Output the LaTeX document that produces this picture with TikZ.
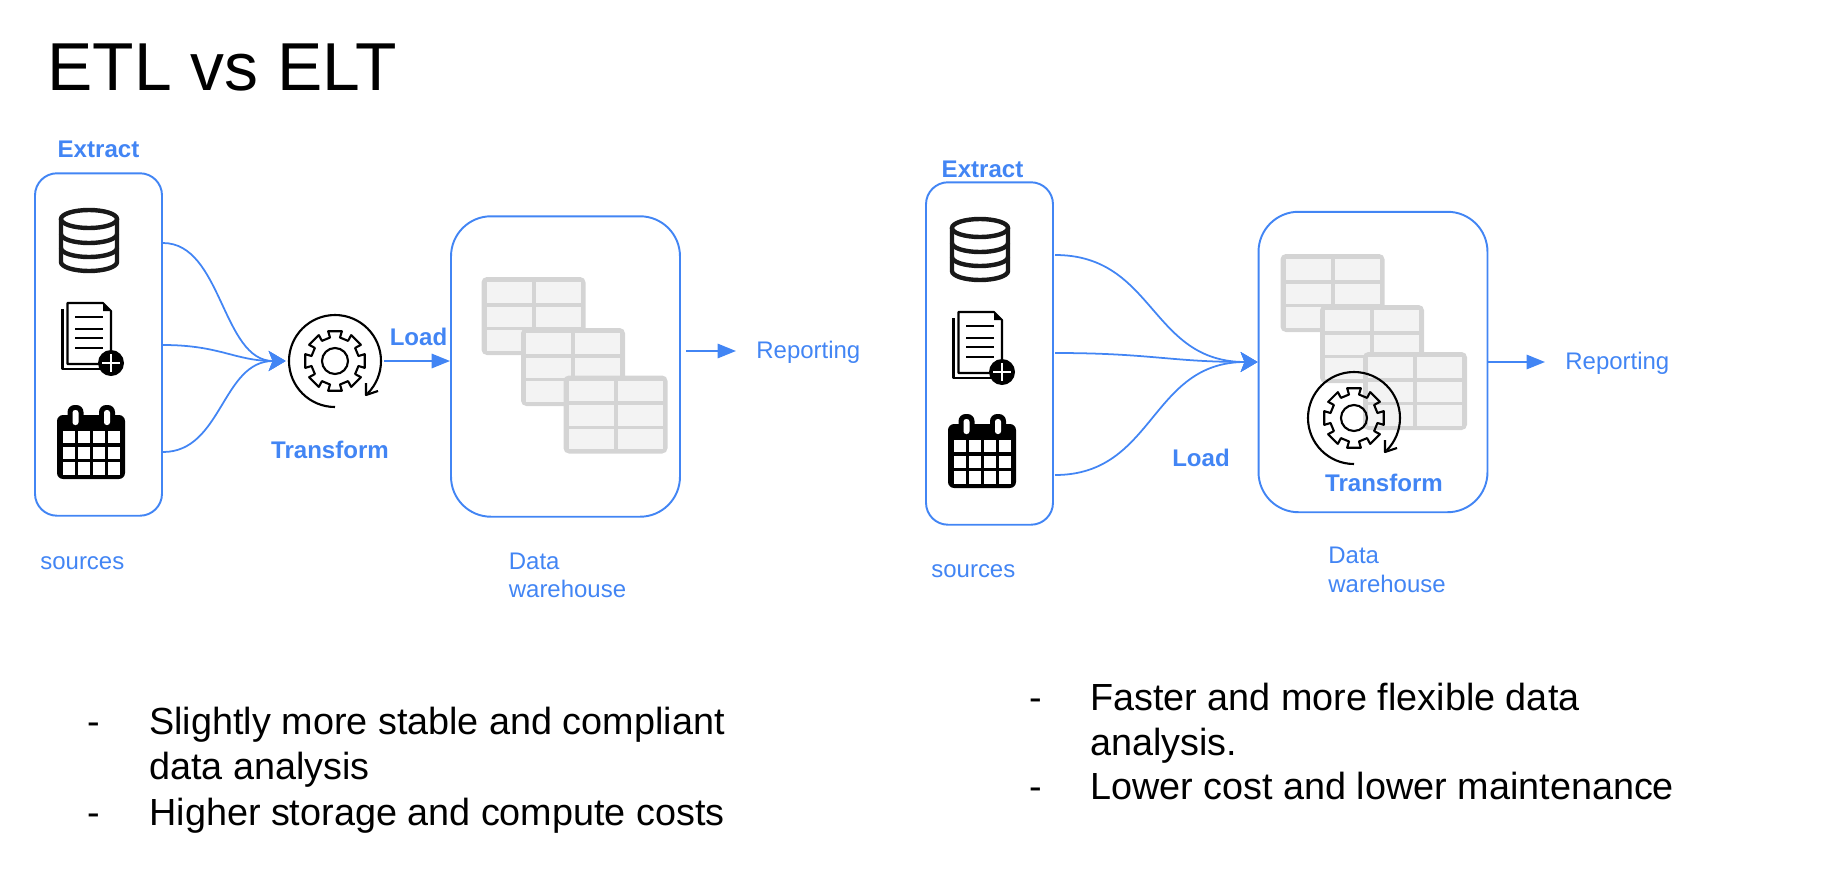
\documentclass[tikz,border=0pt]{standalone}
\usepackage{fontspec}
\setmainfont{Liberation Sans}
\usetikzlibrary{arrows.meta,calc}
\definecolor{flowblue}{HTML}{4285F4}
\definecolor{tablegrey}{HTML}{D4D4D4}
\definecolor{tablecell}{HTML}{F3F3F3}
\tikzset{
	srcbox/.style={draw=flowblue,line width=1.1pt,rounded corners=0.44cm,minimum width=2.54cm,minimum height=6.85cm,inner sep=0},
	whbox/.style={draw=flowblue,line width=1.1pt,rounded corners=0.8cm,minimum width=4.58cm,minimum height=6.01cm,inner sep=0},
	gearbox/.style={circle,minimum size=1.96cm,inner sep=0},
	flow/.style={flowblue,line width=1.1pt,-{Triangle[length=10.5pt,width=8.2pt]}},
	flowline/.style={flowblue,line width=1pt,-{Stealth[length=9.6pt,width=11.3pt,inset=2.2pt]}},
	bluelabel/.style={text=flowblue,font=\fontsize{13.65}{16.2}\selectfont,inner sep=0,align=left},
	boldlabel/.style={bluelabel,font=\fontsize{13.7}{16.2}\selectfont\bfseries},
	bodytext/.style={font=\fontsize{21.5}{25.6}\selectfont,inner sep=0,align=left,anchor=north west},
	iconline/.style={black,line width=1.2pt,line join=round}
}
\newcommand{\tableicon}[2]{
	\fill[tablegrey,rounded corners=3pt] (#1,#2) rectangle ++(104,78);
	\foreach \cx in {5,54}
		\foreach \cy in {5,29.5,53}
			\fill[tablecell] (#1+\cx,#2+\cy) rectangle ++(45,20.5);
}
\newcommand{\gearicon}[2]{
	\begin{scope}[shift={(#1,#2)}]
	\draw[iconline] (0,0) circle (13);
	\draw[iconline] (-12:24) \foreach \a in {0,45,...,315} { -- (\a-12:24) -- (\a-13:30.5) -- (\a+13:30.5) -- (\a+12:24) } -- cycle;
	\draw[iconline] (0,0) ++(90:46) arc[start angle=90,end angle=405,radius=46];
	\draw[iconline] (31,22) -- (31,34) -- (43,30);
	\end{scope}
}
\newcommand{\sourceicons}[2]{
	\begin{scope}[shift={(#1,#2)}]
	% database
	\begin{scope}[black!90,line width=2.5pt]
	\draw (89,219) ellipse (28 and 9);
	\draw (61,219) -- (61,262) arc[start angle=180,end angle=0,x radius=28,y radius=9] -- (117,219);
	\draw (61,234) arc[start angle=180,end angle=0,x radius=28,y radius=9];
	\draw (61,248) arc[start angle=180,end angle=0,x radius=28,y radius=9];
	\end{scope}
	% document
	\draw[iconline] (62.5,309) -- (62.5,369) -- (100,369);
	\draw[iconline,fill=white] (67.5,303) -- (103,303) -- (111,311) -- (111,364) -- (67.5,364) -- cycle;
	\fill[black] (103,303) -- (111,311) -- (103,311) -- cycle;
	\foreach \ly in {317,329,338,348}
		\draw[iconline] (75,\ly) -- (103,\ly);
	\fill[black] (111,363) circle (13);
	\draw[white,line width=1.1pt] (102,363) -- (120,363);
	\draw[white,line width=1.1pt] (111,354) -- (111,372);
	% calendar
	\fill[black,rounded corners=3.5pt] (57,415) rectangle (125,479);
	\foreach \rx in {75.5,107}{
		\fill[black,rounded corners=4pt] (\rx-8,405) rectangle (\rx+8,430);
		\fill[white,rounded corners=1.5pt] (\rx-3,410) rectangle (\rx+3,425);
	}
	\foreach \cx in {62.7,77.6,93,108.3}
		\foreach \cy in {431,446.7,462.3}
			\fill[white] (\cx,\cy) rectangle ++(12,12.3);
	\end{scope}
}
\begin{document}
\begin{tikzpicture}[x=0.02cm,y=-0.02cm]
	\useasboundingbox (0,0) rectangle (1843,869);

	\node[anchor=base west,inner sep=0,font=\fontsize{38.6}{40}\selectfont] (title) at (47,90) {ETL vs ELT};

	% left side
	\node[srcbox] (etlSrc) at (98.5,344.5) {};
	\node[whbox] (etlWh) at (565.5,366.5) {};
	\node[gearbox] (etlGear) at (335,361) {};
	\node[boldlabel] (etlExtract) at (98.5,149) {Extract};
	\node[boldlabel] (etlTransform) at (330,450) {Transform};
	\node[boldlabel] (etlLoad) at (418.5,336.5) {Load};
	\node[bluelabel,anchor=west] (etlSources) at (40,563.5) {sources};
	\node[bluelabel,anchor=north west] (etlWhName) at (508.5,552.5) {Data\\warehouse};
	\node[bluelabel,anchor=west,inner xsep=0.4cm] (etlRep) at (736,352) {Reporting};
	\sourceicons{0}{0}
	\gearicon{335}{361}
	\tableicon{481.5}{277}
	\tableicon{521}{328}
	\tableicon{563.5}{375.5}
	\coordinate (etlOutA) at (163,243);
	\coordinate (etlOutB) at (163,345);
	\coordinate (etlOutC) at (163,452);
	\coordinate (etlRepFrom) at (686,351);
	\draw[flowline] (etlOutA) .. controls (222,243) and (222,361) .. (etlGear.west);
	\draw[flowline] (etlOutB) .. controls (220,345) and (235,361) .. (etlGear.west);
	\draw[flowline] (etlOutC) .. controls (222,452) and (222,361) .. (etlGear.west);
	\draw[flow] (etlGear.east) -- (etlGear.east -| etlWh.west);
	\draw[flow] (etlRepFrom) -- (etlRep.west |- etlRepFrom);

	% right side
	\node[srcbox] (eltSrc) at (989.5,353.5) {};
	\node[whbox] (eltWh) at (1373,362) {};
	\node[boldlabel] (eltExtract) at (982.5,169.5) {Extract};
	\node[boldlabel] (eltTransform) at (1384,483) {Transform};
	\node[boldlabel] (eltLoad) at (1201,458) {Load};
	\node[bluelabel,anchor=west] (eltSources) at (931,571.5) {sources};
	\node[bluelabel,anchor=north west] (eltWhName) at (1328,547) {Data\\warehouse};
	\node[bluelabel,anchor=west,inner xsep=0.4cm] (eltRep) at (1545,363) {Reporting};
	\sourceicons{891}{9}
	\tableicon{1280.5}{254}
	\tableicon{1320}{305}
	\tableicon{1363}{352}
	\gearicon{1354}{418}
	\coordinate (eltOutA) at (1055,255);
	\coordinate (eltOutB) at (1055,353);
	\coordinate (eltOutC) at (1055,475);
	\draw[flowline] (eltOutA) .. controls (1155,255) and (1150,362) .. (eltWh.west);
	\draw[flowline] (eltOutB) .. controls (1150,353) and (1170,362) .. (eltWh.west);
	\draw[flowline] (eltOutC) .. controls (1155,475) and (1150,362) .. (eltWh.west);
	\draw[flow] (eltWh.east) -- (eltRep.west |- eltWh.east);

	% text below
	\node[bodytext] (etlDashA) at (87.5,706.5) {\vphantom{Sl}-};
	\node[bodytext] (etlProA) at (149,706.5) {Slightly more stable and compliant\\data analysis};
	\node[bodytext] (etlDashB) at (87.5,797.5) {\vphantom{Sl}-};
	\node[bodytext] (etlProB) at (149,797.5) {Higher storage and compute costs};
	\node[bodytext] (eltDashA) at (1029,682.5) {\vphantom{Fl}-};
	\node[bodytext] (eltProA) at (1090,682.5) {Faster and more flexible data\\analysis.};
	\node[bodytext] (eltDashB) at (1029,772) {\vphantom{Ll}-};
	\node[bodytext] (eltProB) at (1090,772) {Lower cost and lower maintenance};
\end{tikzpicture}
\end{document}
